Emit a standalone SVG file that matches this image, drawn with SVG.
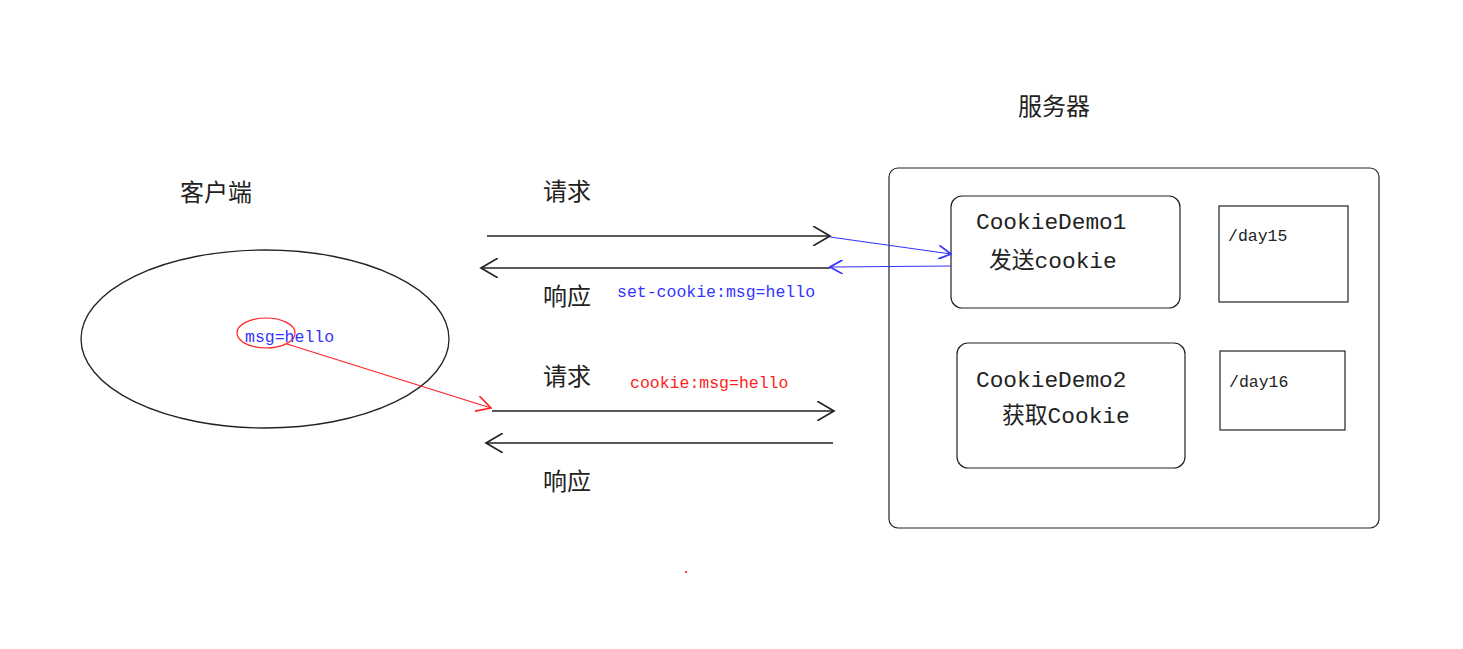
<svg xmlns="http://www.w3.org/2000/svg" width="1463" height="649" viewBox="0 0 1463 649">
<style>
.cjk{font-family:"Noto Sans CJK SC","Noto Sans",sans-serif;font-size:24px;fill:#222}
.mono{font-family:"Liberation Mono","Noto Sans CJK SC",monospace}
.line{fill:none;stroke:#222;stroke-width:1.3}
.box{fill:#fff;stroke:#222;stroke-width:1.2}
</style>
<defs>
<marker id="ak" markerUnits="userSpaceOnUse" markerWidth="20" markerHeight="20" refX="12" refY="7" orient="auto-start-reverse" viewBox="0 0 14 14"><path d="M0,0 L12,7 L0,14" fill="none" stroke="#222" stroke-width="1.2"/></marker>
<marker id="ab" markerUnits="userSpaceOnUse" markerWidth="14" markerHeight="14" refX="9" refY="5" orient="auto-start-reverse" viewBox="0 0 10 10"><path d="M0,0 L9,5 L0,10" fill="none" stroke="#3333ff" stroke-width="1.2"/></marker>
<marker id="ar" markerUnits="userSpaceOnUse" markerWidth="16" markerHeight="16" refX="11" refY="6" orient="auto-start-reverse" viewBox="0 0 12 12"><path d="M0,0 L11,6 L0,12" fill="none" stroke="#ff2020" stroke-width="1.2"/></marker>
</defs>
<rect width="1463" height="649" fill="#fff"/>

<g id="client">
<text class="cjk" x="180" y="201" font-size="26">客户端</text>
<ellipse cx="265" cy="339" rx="184" ry="89" class="line"/>
<ellipse cx="266" cy="333" rx="29" ry="15" fill="none" stroke="#ff2020" stroke-width="1.2"/>
<text class="mono" x="245" y="342" font-size="16.5" fill="#3333ff">msg=hello</text>
</g>

<g id="server">
<text class="cjk" x="1018" y="115" font-size="26">服务器</text>
<rect x="889" y="168" width="490" height="360" rx="9" class="box"/>
</g>

<g id="demo1">
<rect x="951" y="196" width="229" height="112" rx="11" class="box"/>
<text class="mono" x="976" y="229" font-size="22.8" fill="#222">CookieDemo1</text>
<text class="mono" x="989" y="268" font-size="22.8" fill="#222">发送cookie</text>
</g>
<g id="day15">
<rect x="1219" y="206" width="129" height="96" class="box"/>
<text class="mono" x="1228" y="241" font-size="16.5" fill="#222">/day15</text>
</g>
<g id="demo2">
<rect x="957" y="343" width="228" height="125" rx="11" class="box"/>
<text class="mono" x="976" y="387" font-size="22.8" fill="#222">CookieDemo2</text>
<text class="mono" x="1002" y="423" font-size="22.8" fill="#222">获取Cookie</text>
</g>
<g id="day16">
<rect x="1220" y="351" width="125" height="79" class="box"/>
<text class="mono" x="1229" y="387" font-size="16.5" fill="#222">/day16</text>
</g>

<g id="connectors">
<line x1="487" y1="236" x2="830" y2="236" class="line" marker-end="url(#ak)"/>
<line x1="830" y1="268" x2="481" y2="268" class="line" marker-end="url(#ak)"/>
<line x1="492" y1="411" x2="834" y2="411" class="line" marker-end="url(#ak)"/>
<line x1="833" y1="443" x2="486" y2="443" class="line" marker-end="url(#ak)"/>
<line x1="830" y1="237" x2="951" y2="254" fill="none" stroke="#3333ff" stroke-width="1.2" marker-end="url(#ab)"/>
<line x1="951" y1="266" x2="830" y2="267" fill="none" stroke="#3333ff" stroke-width="1.2" marker-end="url(#ab)"/>
<line x1="287" y1="344" x2="491" y2="408" fill="none" stroke="#ff2020" stroke-width="1.2" marker-end="url(#ar)"/>
</g>

<g id="labels">
<text class="cjk" x="543" y="200">请求</text>
<text class="cjk" x="543" y="305">响应</text>
<text class="cjk" x="543" y="385">请求</text>
<text class="cjk" x="543" y="490">响应</text>
<text class="mono" x="617" y="297" font-size="16.5" fill="#3333ff">set-cookie:msg=hello</text>
<text class="mono" x="630" y="388" font-size="16.5" fill="#ff2020">cookie:msg=hello</text>
</g>
<rect x="685" y="571" width="2" height="2" fill="#ff4040"/>
</svg>
